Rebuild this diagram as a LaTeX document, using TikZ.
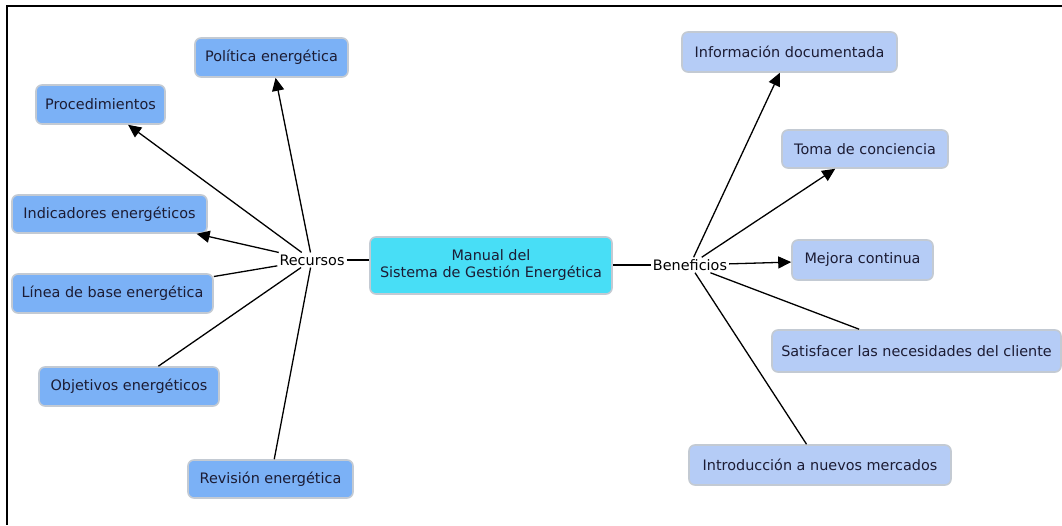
\documentclass[tikz,border=0pt]{standalone}
\usepackage{fontspec}
\setmainfont{DejaVu Sans}
\usetikzlibrary{arrows.meta}
\definecolor{leftfill}{HTML}{7BB1F6}
\definecolor{rightfill}{HTML}{B5CCF6}
\definecolor{centerfill}{HTML}{48DEF6}
\definecolor{boxline}{HTML}{C3CAD3}
\definecolor{txt}{HTML}{1C1C34}
\tikzset{
  box/.style={rounded corners=6pt, draw=boxline, line width=1.6pt, inner sep=0pt,
    text=txt, font=\fontsize{14.4}{17}\selectfont, align=center},
  lbox/.style={box, fill=leftfill},
  rbox/.style={box, fill=rightfill},
  cbox/.style={box, fill=centerfill},
  lbl/.style={inner sep=2pt, text=black, font=\fontsize{14.4}{17}\selectfont},
  conn/.style={line width=1.3pt, draw=black},
  arr/.style={conn, -{Triangle[length=13pt,width=12pt]}},
}
\begin{document}
\begin{tikzpicture}[x=1pt,y=-1pt]
\useasboundingbox (0,0) rectangle (1062,525);
\fill[white] (0,0) rectangle (1062,525);
\draw[line width=2pt] (1062,6) -- (7,6) -- (7,525);

\node[cbox, minimum width=242, minimum height=57] (man) at (491,265.5) {Manual del\\Sistema de Gestión Energética};
\node[lbl] (rec) at (312,260) {Recursos};
\node[lbl] (ben) at (690,265) {Beneficios};

\node[lbox, minimum width=153, minimum height=39] (pol) at (271.5,57.5) {Política energética};
\node[lbox, minimum width=129, minimum height=39] (proc) at (100.5,104.5) {Procedimientos};
\node[lbox, minimum width=195, minimum height=38] (ind) at (109.5,214) {Indicadores energéticos};
\node[lbox, minimum width=201, minimum height=39] (lin) at (112.5,293.5) {Línea de base energética};
\node[lbox, minimum width=180, minimum height=39] (obj) at (129,386.5) {Objetivos energéticos};
\node[lbox, minimum width=165, minimum height=38] (rev) at (270.5,479) {Revisión energética};

\node[rbox, minimum width=215, minimum height=40] (inf) at (789.5,52) {Información documentada};
\node[rbox, minimum width=166, minimum height=38] (tom) at (865,149) {Toma de conciencia};
\node[rbox, minimum width=141, minimum height=40] (mej) at (862.5,260) {Mejora continua};
\node[rbox, minimum width=289, minimum height=42] (sat) at (916.5,351) {Satisfacer las necesidades del cliente};
\node[rbox, minimum width=262, minimum height=40] (intro) at (820,465) {Introducción a nuevos mercados};

\draw[conn] (rec) -- (man.west |- rec);
\draw[conn] (man.east |- ben) -- (ben);

\draw[arr] (rec) -- (pol);
\draw[arr] (rec) -- (proc);
\draw[arr] (rec) -- (ind);
\draw[conn] (rec) -- (lin);
\draw[conn] (rec) -- (obj);
\draw[conn] (rec) -- (rev);

\draw[arr] (ben) -- (inf);
\draw[arr] (ben) -- (tom);
\draw[arr] (ben) -- (mej);
\draw[conn] (ben) -- (sat);
\draw[conn] (ben) -- (intro);
\end{tikzpicture}
\end{document}
